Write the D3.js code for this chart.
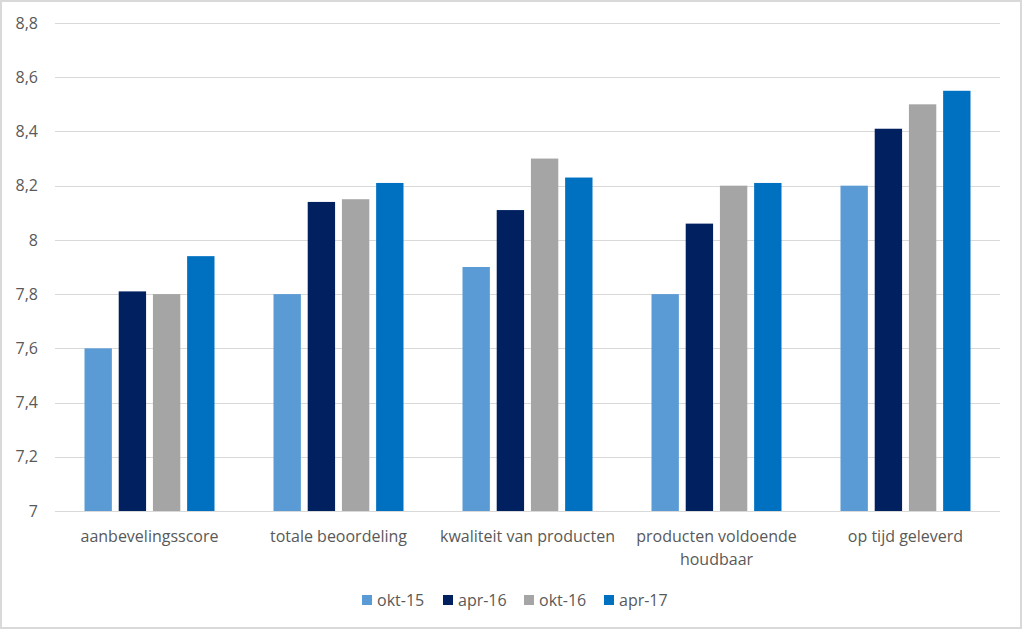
<!DOCTYPE html>
<html><head><meta charset="utf-8">
<script src="https://cdn.jsdelivr.net/npm/d3@7"></script>
<style>html,body{margin:0;padding:0;background:#fff;}svg{display:block;}</style>
</head><body>
<svg id="c" width="1023" height="631"></svg>
<script>
const categories = [["aanbevelingsscore"],["totale beoordeling"],["kwaliteit van producten"],["producten voldoende","houdbaar"],["op tijd geleverd"]];
const seriesNames = ["okt-15","apr-16","okt-16","apr-17"];
const okt15 = [7.6, 7.8, 7.9, 7.8, 8.2];
const apr16 = [7.81, 8.14, 8.11, 8.06, 8.41];
const okt16 = [7.8, 8.15, 8.3, 8.2, 8.5];
const apr17 = [7.94, 8.21, 8.23, 8.21, 8.55];
const yTicks = [7, 7.2, 7.4, 7.6, 7.8, 8, 8.2, 8.4, 8.6, 8.8];
const colors = ["#5B9BD5","#002060","#A5A5A5","#0070C0"];
const series = [okt15, apr16, okt16, apr17];

const svg = d3.select("#c");
const font = "'Open Sans', 'Noto Sans', sans-serif";
// frame
svg.append("rect").attr("x",1).attr("y",1).attr("width",1020).attr("height",627)
  .attr("fill","#fff").attr("stroke","#d9d9d9").attr("stroke-width",2);

const pLeft = 55, pRight = 1000, pTop = 23, pBottom = 511;
const x = d3.scaleBand().domain(d3.range(categories.length)).range([pLeft, pRight]).paddingInner(0).paddingOuter(0);
const y = d3.scaleLinear().domain([7, 8.8]).range([pBottom, pTop]);
const xs = d3.scaleBand().domain(d3.range(series.length)).range([29.5, x.bandwidth()-29.5]).paddingInner(0.2);

// grid
svg.append("g").selectAll("line").data(yTicks).join("line")
  .attr("x1", pLeft).attr("x2", pRight)
  .attr("y1", d => Math.round(y(d))+0.5).attr("y2", d => Math.round(y(d))+0.5)
  .attr("stroke","#d9d9d9").attr("stroke-width",1);

const fmt = d => String(+d.toFixed(1)).replace(".", ",");
const yAxis = d3.axisLeft(y).tickValues(yTicks).tickFormat(fmt).tickSize(0).tickPadding(0);
const ya = svg.append("g").attr("transform", `translate(38,0)`).call(yAxis);
ya.select(".domain").remove();
ya.selectAll("text").attr("font-family", font).attr("font-size", 16).attr("fill","#595959");

// bars
const g = svg.append("g");
series.forEach((s, si) => {
  g.append("g").selectAll("rect").data(s).join("rect")
    .attr("x", (d,i) => x(i) + xs(si))
    .attr("width", xs.bandwidth())
    .attr("y", d => y(d))
    .attr("height", d => y(7) - y(d))
    .attr("fill", colors[si]);
});

// x axis line
svg.append("line").attr("x1",pLeft).attr("x2",pRight).attr("y1",pBottom+0.5).attr("y2",pBottom+0.5).attr("stroke","#d9d9d9");

// category labels
const xl = svg.append("g");
categories.forEach((lines, i) => {
  const t = xl.append("text").attr("x", x(i) + x.bandwidth()/2).attr("y", 542)
    .attr("text-anchor","middle").attr("font-family", font).attr("font-size",16).attr("fill","#595959");
  lines.forEach((ln, li) => t.append("tspan").attr("x", x(i) + x.bandwidth()/2).attr("dy", li ? 23 : 0).text(ln));
});

// legend
const legX = [362, 443, 524, 604];
const lg = svg.append("g");
seriesNames.forEach((n, i) => {
  lg.append("rect").attr("x", legX[i]).attr("y", 595).attr("width", 10).attr("height", 10).attr("fill", colors[i]);
  lg.append("text").attr("x", legX[i]+15).attr("y", 606).attr("font-family", font).attr("font-size",16).attr("fill","#595959").text(n);
});
</script>
</body></html>
